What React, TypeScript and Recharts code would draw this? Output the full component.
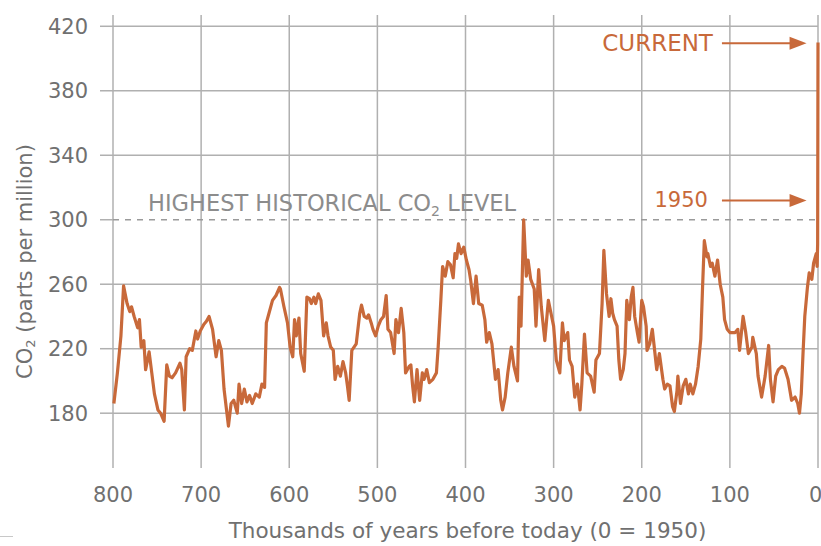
import React from 'react';
import { LineChart, Line, XAxis, YAxis, CartesianGrid, ReferenceLine } from 'recharts';

const years = [
  799, 795, 791, 788, 784, 781, 779, 776, 772, 770, 768, 765, 763, 759, 756, 753, 749, 746, 742, 739,
  736, 733, 729, 724, 722, 719, 717, 713, 710, 706, 704, 701, 697, 694, 691, 687, 683, 680, 677, 674,
  669, 666, 663, 659, 657, 654, 651, 648, 645, 642, 638, 634, 631, 628, 626, 623, 619, 615, 611, 610,
  606, 602, 599, 596, 594, 592, 589, 587, 583, 580, 577, 575, 572, 570, 567, 564, 561, 558, 556, 553,
  550, 548, 545, 542, 539, 536, 534, 532, 529, 524, 520, 518, 515, 512, 510, 507, 505, 502, 499, 496,
  493, 490, 488, 485, 481, 479, 476, 473, 470, 468, 464, 462, 460, 458, 455, 452, 449, 447, 444, 441,
  437, 433, 431, 428, 426, 423, 420, 417, 414, 412, 410, 408, 405, 402, 399, 396, 394, 391, 388, 385,
  381, 378, 376, 373, 370, 366, 363, 360, 358, 355, 352, 348, 345, 341, 339, 337, 334, 331, 329, 326,
  322, 320, 317, 314, 310, 306, 303, 300, 297, 293, 290, 288, 284, 282, 279, 276, 273, 270, 268, 265,
  262, 258, 254, 252, 248, 245, 243, 240, 237, 235, 233, 231, 228, 226, 224, 221, 219, 217, 214, 212,
  210, 208, 205, 203, 200, 198, 195, 194, 191, 188, 185, 183, 180, 176, 174, 171, 168, 165, 163, 160,
  159, 156, 153, 150, 147, 145, 142, 139, 136, 133, 131, 129, 126, 125, 122, 120, 117, 114, 111, 108,
  106, 103, 100, 94, 91, 89, 85, 82, 79, 75, 74, 70, 68, 64, 60, 56, 54, 51, 48, 45,
  41, 38, 34, 30, 26, 23, 21, 19, 17, 15, 12, 10, 7, 5, 2, 1, 0.4, 0,
];

const co2 = [
  186, 205, 228, 259, 248, 243, 246, 240, 233, 238, 221, 225, 207, 218, 205, 192, 182, 180, 175, 210,
  203, 202, 205, 211, 207, 182, 215, 220, 219, 231, 226, 231, 235, 237, 240, 232, 215, 225, 219, 195,
  172, 186, 188, 180, 198, 186, 195, 187, 191, 186, 192, 190, 198, 196, 236, 242, 250, 253, 258, 257,
  246, 236, 221, 215, 238, 228, 239, 217, 206, 252, 251, 248, 252, 248, 254, 250, 228, 236, 228, 221,
  219, 201, 209, 203, 212, 205, 197, 188, 219, 223, 242, 247, 240, 239, 241, 236, 232, 228, 234, 238,
  240, 253, 232, 230, 217, 238, 230, 245, 230, 205, 209, 210, 197, 187, 207, 188, 205, 201, 207, 199,
  201, 205, 221, 250, 271, 265, 274, 272, 264, 279, 276, 285, 279, 283, 275, 269, 262, 248, 265, 248,
  247, 238, 224, 230, 223, 201, 207, 188, 182, 190, 205, 221, 209, 200, 252, 234, 300, 265, 275, 263,
  257, 234, 269, 246, 225, 250, 242, 234, 213, 205, 236, 225, 230, 213, 209, 190, 198, 182, 198, 229,
  205, 203, 193, 213, 217, 248, 281, 254, 240, 251, 242, 238, 234, 213, 201, 207, 217, 250, 238, 252,
  258, 240, 230, 224, 250, 246, 234, 219, 223, 232, 217, 207, 217, 201, 195, 198, 197, 184, 181, 194,
  203, 186, 197, 201, 192, 198, 192, 198, 209, 226, 258, 287, 277, 279, 271, 273, 265, 275, 260, 252,
  238, 232, 230, 230, 232, 219, 240, 230, 217, 221, 227, 217, 203, 190, 203, 222, 201, 187, 203, 207,
  209, 208, 201, 188, 190, 186, 180, 192, 217, 240, 258, 267, 263, 273, 279, 271, 285, 410,
];

const xTicks = [800, 700, 600, 500, 400, 300, 200, 100, 0];
const yTicks = [180, 220, 260, 300, 340, 380, 420];
const gridYValues = [180, 220, 260, 340, 380, 420];

const data = years.map((y, i) => ({ year: y, co2: co2[i] }));

const ORANGE = '#c8693a';
const GRID = '#b0b0b0';
const TEXT = '#707070';
const FONT = '"DejaVu Sans", Verdana, sans-serif';

const makeArrow = (text: string, gap: number, size: number) => (p: any) => {
  const { x1, y1, x2 } = p;
  const head = 17;
  return (
    <g>
      <line x1={x1} y1={y1} x2={x2 - head + 1} y2={y1} stroke={ORANGE} strokeWidth={2} />
      <polygon points={`${x2 - head},${y1 - 6.5} ${x2},${y1} ${x2 - head},${y1 + 6.5}`} fill={ORANGE} />
      <text x={x1 - gap} y={y1} textAnchor="end" dominantBaseline="central" fontSize={size} fill={ORANGE} fontFamily={FONT}>
        {text}
      </text>
    </g>
  );
};

const HighestLabel = (p: any) => {
  const vb = p.viewBox || {};
  return (
    <text x={vb.x + 35} y={vb.y - 9} fontSize={22.5} fill="#8c8c8c" fontFamily={FONT}>
      HIGHEST HISTORICAL CO<tspan fontSize={14} dy={5}>2</tspan>
      <tspan dy={-5}> LEVEL</tspan>
    </text>
  );
};

const YLabel = (p: any) => {
  const vb = p.viewBox || {};
  const cx = vb.x + 25;
  const cy = vb.y + vb.height / 2 + 20;
  return (
    <text x={cx} y={cy} transform={`rotate(-90 ${cx} ${cy})`} textAnchor="middle" dominantBaseline="central" fontSize={21} fill={TEXT} fontFamily={FONT}>
      CO<tspan fontSize={13} dy={5}>2</tspan>
      <tspan dy={-5}>  (parts per million)</tspan>
    </text>
  );
};

const XLabel = (p: any) => {
  const vb = p.viewBox || {};
  return (
    <text x={vb.x + vb.width / 2 + 2} y={vb.y + vb.height - 8} textAnchor="middle" fontSize={21.5} fill={TEXT} fontFamily={FONT}>
      Thousands of years before today (0 = 1950)
    </text>
  );
};

export default function App() {
  return (
    <div style={{ position: 'absolute', left: 0, top: 0, width: 821, height: 546, background: '#fff' }}>
      <LineChart width={821} height={546} data={data} margin={{ top: 15, right: 3, bottom: 0, left: 0 }}>
        <CartesianGrid vertical horizontal horizontalValues={gridYValues} stroke={GRID} strokeWidth={1.5} />
        <XAxis
          dataKey="year"
          type="number"
          domain={[0, 800]}
          reversed
          ticks={xTicks}
          height={78}
          axisLine={false}
          tickLine={false}
          tickSize={0}
          tickMargin={19}
          tick={{ fontSize: 21, fill: TEXT, fontFamily: FONT }}
          label={<XLabel />}
        />
        <YAxis
          type="number"
          domain={[146, 427]}
          ticks={yTicks}
          width={113}
          axisLine={false}
          tickLine={{ stroke: GRID, strokeWidth: 1.5 }}
          tickSize={13}
          tickMargin={12}
          tick={{ fontSize: 21, fill: TEXT, fontFamily: FONT }}
          label={<YLabel />}
        />
        <ReferenceLine y={300} stroke="#9a9a9a" strokeWidth={1.5} strokeDasharray="6 6" label={<HighestLabel />} />
        <ReferenceLine
          segment={[{ x: 109, y: 409.5 }, { x: 13, y: 409.5 }]}
          shape={makeArrow('CURRENT', 9, 23)}
        />
        <ReferenceLine
          segment={[{ x: 109, y: 312 }, { x: 13, y: 312 }]}
          shape={makeArrow('1950', 14, 21)}
        />
        <Line
          type="linear"
          dataKey="co2"
          stroke={ORANGE}
          strokeWidth={3.2}
          dot={false}
          isAnimationActive={false}
          strokeLinejoin="round"
        />
      </LineChart>
      <div style={{ position: 'absolute', left: 0, top: 536, width: 13, height: 1, background: '#c8c8c8' }} />
    </div>
  );
}
